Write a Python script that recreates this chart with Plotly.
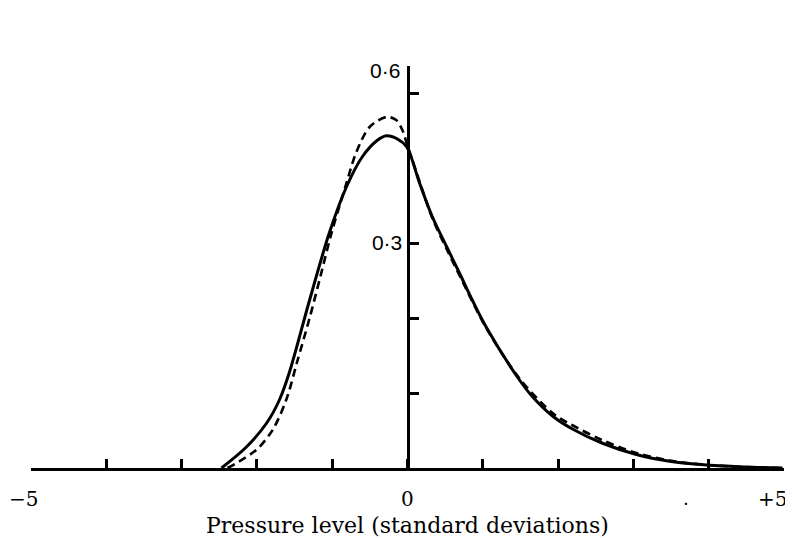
import plotly.graph_objects as go

# Observed distribution (solid) and fitted curve (dashed), x in standard deviations
solid_x = [-2.47, -2.14, -1.87, -1.70, -1.57, -1.30, -1.04, -0.81, -0.60,
           -0.40, -0.28, -0.14, -0.01, 0.16, 0.33, 0.52, 0.69, 0.86, 1.05, 1.49, 1.66, 1.93,
           2.19, 2.59, 3.04, 3.48, 3.97, 4.58, 4.98]
solid_y = [0.0, 0.028, 0.060, 0.091, 0.127, 0.224, 0.313, 0.375, 0.415,
           0.437, 0.443, 0.439, 0.428, 0.380, 0.335, 0.295, 0.260, 0.224, 0.187, 0.117, 0.095,
           0.069, 0.052, 0.033, 0.018, 0.009, 0.004, 0.001, 0.0]

dash_x = [-2.39, -2.01, -1.79, -1.61, -1.47, -1.30, -1.15, -1.01, -0.81,
          -0.68, -0.50, -0.28, -0.15, -0.07, -0.01, 0.16, 0.33, 0.52, 0.69, 1.05, 1.49, 1.93,
          2.19, 2.59, 3.04, 3.48, 3.97, 4.58, 4.98]
dash_y = [0.0, 0.024, 0.051, 0.091, 0.140, 0.200, 0.258, 0.313, 0.380,
          0.421, 0.455, 0.468, 0.464, 0.451, 0.433, 0.382, 0.333, 0.292, 0.257, 0.186, 0.119,
          0.073, 0.057, 0.037, 0.020, 0.010, 0.004, 0.001, 0.0]

x_ticks = [-5, -4, -3, -2, -1, 0, 1, 2, 3, 4, 5]
x_labels = {-5: "\u22125", 0: "0", 5: "+5"}
y_ticks = [0.1, 0.2, 0.3, 0.5]
y_ticktext = ["", "", "0\u00b73", ""]
y_top = 0.536

SERIF = "DejaVu Serif"
SANS = "Liberation Sans"

fig = go.Figure()
fig.add_trace(go.Scatter(x=solid_x, y=solid_y, mode="lines",
                         line=dict(color="black", width=3, shape="spline", smoothing=0.9),
                         showlegend=False, hoverinfo="skip"))
fig.add_trace(go.Scatter(x=dash_x, y=dash_y, mode="lines",
                         line=dict(color="black", width=2.6, dash="8px,5px", shape="spline", smoothing=0.9),
                         showlegend=False, hoverinfo="skip"))

fig.update_layout(
    width=785, height=531,
    margin=dict(l=23, r=9, t=58, b=71),
    paper_bgcolor="white", plot_bgcolor="white",
    font=dict(family=SERIF, color="black", size=18),
    xaxis=dict(range=[-5, 5], showgrid=False, zeroline=False,
               showline=True, linecolor="black", linewidth=3,
               ticks="inside", tickvals=x_ticks, ticklen=9, tickwidth=2.5, tickcolor="black",
               showticklabels=False),
    yaxis=dict(range=[0, y_top], showgrid=False, zeroline=False,
               anchor="free", position=0.5,
               showline=True, linecolor="black", linewidth=3,
               ticks="inside", tickvals=y_ticks, ticktext=y_ticktext,
               ticklen=9, tickwidth=2.5, tickcolor="black",
               tickfont=dict(family=SANS, size=21)),
)

for v, t in x_labels.items():
    shift = {-5: -8, 0: 0, 5: -12}[v]
    fig.add_annotation(x=v, y=0, xref="x", yref="y", text=t, showarrow=False,
                       xanchor="center", yanchor="top", yshift=-17, xshift=shift,
                       font=dict(family=SERIF, size=20))

fig.add_annotation(x=0, y=y_top, xref="x", yref="y", text="0\u00b76", showarrow=False,
                   xanchor="right", yanchor="middle", xshift=-6, yshift=-4,
                   font=dict(family=SANS, size=21))

fig.add_annotation(x=3.7, y=0, xref="x", yref="y", text=".", showarrow=False,
                   xanchor="center", yanchor="top", yshift=-18,
                   font=dict(family=SERIF, size=18))

fig.add_annotation(x=0, y=0, xref="x", yref="y", text="Pressure level (standard deviations)",
                   showarrow=False, xanchor="center", yanchor="top", yshift=-43,
                   font=dict(family=SERIF, size=22))

fig.write_html("out.html")
